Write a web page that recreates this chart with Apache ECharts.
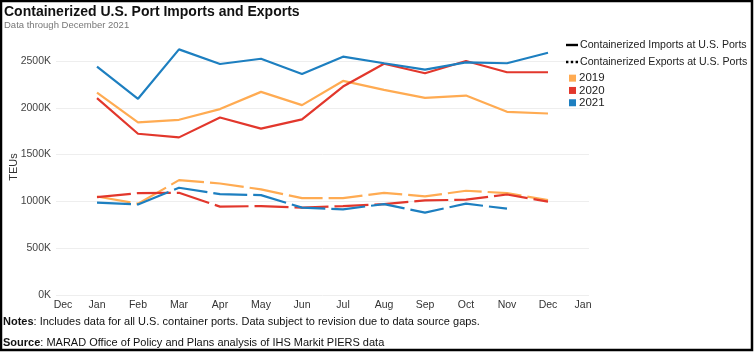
<!DOCTYPE html>
<html>
<head>
<meta charset="utf-8">
<script src="https://cdn.jsdelivr.net/npm/echarts@6/dist/echarts.min.js"></script>
<style>
  html, body { margin: 0; padding: 0; background: #fff; }
  #main { width: 754px; height: 352px; }
</style>
</head>
<body>
<div id="main"></div>
<script>
var myChart = echarts.init(document.getElementById('main'));

// month labels on the axis (empty Dec / Jan at the ends)
var months = ['Dec', 'Jan', 'Feb', 'Mar', 'Apr', 'May', 'Jun', 'Jul', 'Aug', 'Sep', 'Oct', 'Nov', 'Dec', 'Jan'];
var yearNames = ['2019', '2020', '2021'];
var yearColors = ['#FFAB52', '#E2372C', '#1D7FC0'];

// TEUs in thousands, Jan..Dec
var imports2019 = [2163, 1844, 1872, 1986, 2170, 2029, 2287, 2191, 2106, 2131, 1957, 1939];
var imports2020 = [2103, 1723, 1684, 1897, 1777, 1876, 2227, 2471, 2369, 2500, 2380, 2380];
var imports2021 = [2439, 2096, 2624, 2468, 2524, 2362, 2546, 2476, 2407, 2486, 2476, 2588];

var exports2019 = [1052, 975, 1227, 1191, 1128, 1035, 1035, 1092, 1053, 1114, 1088, 1014];
var exports2020 = [1046, 1088, 1092, 944, 950, 933, 950, 971, 1011, 1018, 1074, 997];
var exports2021 = [986, 968, 1146, 1078, 1067, 933, 915, 971, 880, 976, 922, null];

var importsName = 'Containerized Imports at U.S. Ports';
var exportsName = 'Containerized Exports at U.S. Ports';

function pad(arr) {
    // leading Dec and trailing Jan have no data
    return [null].concat(arr).concat([null]);
}

var importSets = [imports2019, imports2020, imports2021];
var exportSets = [exports2019, exports2020, exports2021];

var series = [];
for (var i = 0; i < 3; i++) {
    series.push({
        name: yearNames[i],
        type: 'line',
        data: pad(importSets[i]),
        symbol: 'none',
        clip: false,
        z: 3 + i,
        color: yearColors[i],
        lineStyle: { width: 2.2, color: yearColors[i] }
    });
    series.push({
        name: yearNames[i],
        type: 'line',
        data: pad(exportSets[i]),
        symbol: 'none',
        clip: false,
        z: 3 + i,
        color: yearColors[i],
        lineStyle: { width: 2.2, color: yearColors[i], type: [34, 6] }
    });
}
// empty series, only so the legend gets the black line / dotted entries
series.push({ name: importsName, type: 'line', data: [], color: '#000' });
series.push({ name: exportsName, type: 'line', data: [], color: '#000' });

var option = {
    animation: false,
    textStyle: { fontFamily: 'Liberation Sans, Arial, sans-serif' },
    title: [
        {
            text: 'Containerized U.S. Port Imports and Exports',
            subtext: 'Data through December 2021',
            left: 4,
            top: 5,
            padding: 0,
            itemGap: 1,
            textStyle: { fontSize: 14, fontWeight: 'bold', color: '#111' },
            subtextStyle: { fontSize: 9.5, color: '#777' }
        },
        {
            text: '{b|Notes}: Includes data for all U.S. container ports. Data subject to revision due to data source gaps.',
            left: 3,
            top: 316,
            padding: 0,
            textStyle: {
                fontSize: 11, fontWeight: 'normal', color: '#111',
                rich: { b: { fontSize: 11, fontWeight: 'bold', color: '#111' } }
            }
        },
        {
            text: '{b|Source}: MARAD Office of Policy and Plans analysis of IHS Markit PIERS data',
            left: 3,
            top: 337,
            padding: 0,
            textStyle: {
                fontSize: 11, fontWeight: 'normal', color: '#111',
                rich: { b: { fontSize: 11, fontWeight: 'bold', color: '#111' } }
            }
        }
    ],
    legend: [
        {
            data: [
                { name: importsName, icon: 'path://M0,0H12V2.4H0Z' },
                { name: exportsName, icon: 'path://M0,0H2.4V2.4H0Z M4.8,0H7.2V2.4H4.8Z M9.6,0H12V2.4H9.6Z' }
            ],
            orient: 'vertical',
            left: 566,
            top: 38,
            padding: 0,
            itemGap: 3,
            itemWidth: 12,
            itemHeight: 3,
            selectedMode: false,
            textStyle: { fontSize: 10.6, color: '#222', lineHeight: 14, padding: [0, 0, 0, -3] }
        },
        {
            data: yearNames,
            orient: 'vertical',
            left: 569,
            top: 72,
            padding: 0,
            itemGap: 0,
            itemWidth: 7,
            itemHeight: 7,
            icon: 'rect',
            selectedMode: false,
            textStyle: { fontSize: 11.5, color: '#222', lineHeight: 12.3, padding: [0, 0, 0, -2] }
        }
    ],
    grid: { left: 56, width: 533, top: 61, bottom: 57, outerBoundsMode: 'none', containLabel: false },
    xAxis: {
        type: 'category',
        data: months,
        boundaryGap: false,
        axisLine: { show: false },
        axisTick: { show: false },
        splitLine: { show: false },
        axisLabel: {
            interval: 0,
            margin: 5,
            fontSize: 10.5,
            color: '#333',
            formatter: function (v, idx) {
                if (idx === 0) return '{l|' + v + '}';
                if (idx === months.length - 1) return '{r|' + v + '}';
                return v;
            },
            rich: {
                l: { fontSize: 10.5, color: '#333', padding: [0, 0, 0, 14] },
                r: { fontSize: 10.5, color: '#333', padding: [0, 12, 0, 0] }
            }
        }
    },
    yAxis: {
        type: 'value',
        min: 0,
        max: 2500,
        interval: 500,
        name: 'TEUs',
        nameLocation: 'middle',
        nameGap: 37,
        nameMoveOverlap: false,
        nameTextStyle: { fontSize: 11, color: '#333', padding: [0, 0, 0, 22] },
        axisLine: { show: false },
        axisTick: { show: false },
        splitLine: { lineStyle: { color: '#eeeeee', width: 1 } },
        axisLabel: {
            margin: 5,
            fontSize: 10.5,
            color: '#444',
            formatter: function (v) { return v + 'K'; }
        }
    },
    graphic: [
        {
            type: 'rect',
            shape: { x: 1, y: 1, width: 751, height: 349 },
            style: { fill: 'none', stroke: '#000', lineWidth: 2.5 },
            z: 100
        }
    ],
    series: series
};

myChart.setOption(option);
</script>
</body>
</html>
